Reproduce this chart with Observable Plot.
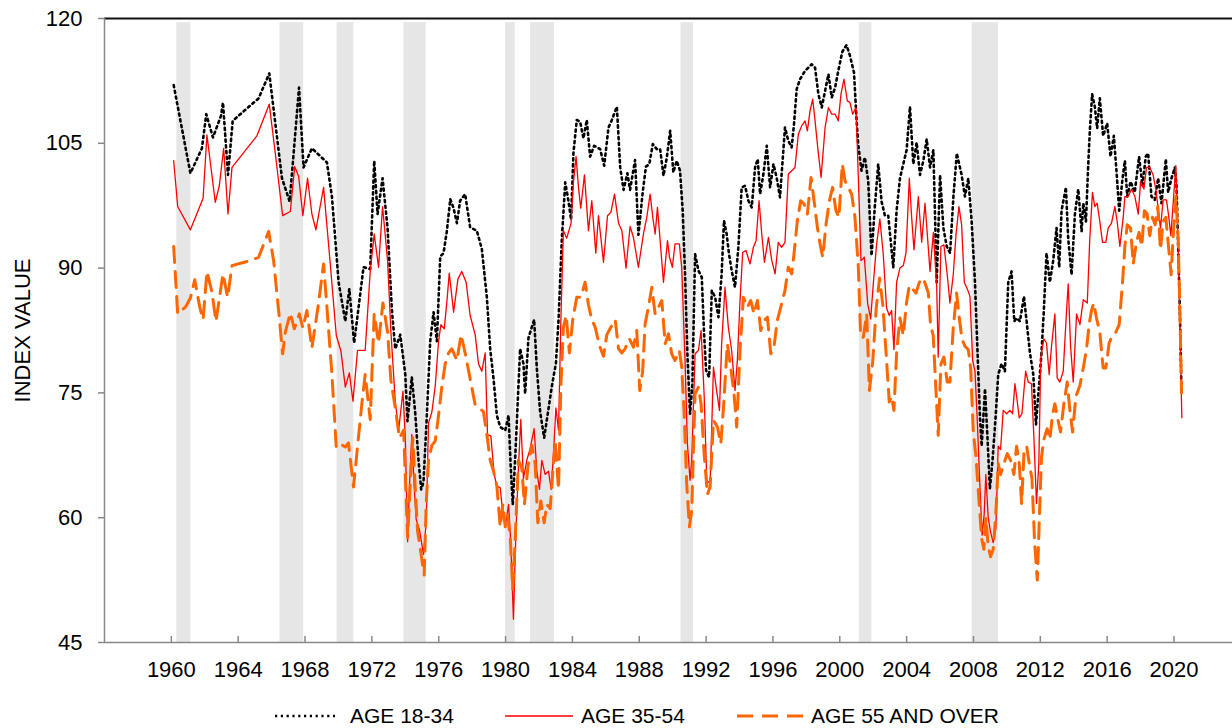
<!DOCTYPE html>
<html><head><meta charset="utf-8">
<script src="https://cdn.jsdelivr.net/npm/d3@7"></script>
<script src="https://cdn.jsdelivr.net/npm/@observablehq/plot@0.6"></script>
<style>
body{margin:0;background:#fff;font-family:"Liberation Sans",Arial,sans-serif;}
#chart svg{display:block;}
#legend{display:block;}
</style></head><body><div id="chart"></div><div id="legend"></div>
<script>
const xTicks = [1960,1964,1968,1972,1976,1980,1984,1988,1992,1996,2000,2004,2008,2012,2016,2020];
const yTicks = [45,60,75,90,105,120];
const seriesNames = ["AGE 18-34","AGE 35-54","AGE 55 AND OVER"];
const recessions = [[1960.33,1961.17],[1966.5,1967.92],[1969.92,1970.92],[1973.92,1975.25],[1980.0,1980.58],[1981.5,1982.92],[1990.5,1991.25],[2001.17,2001.92],[2007.92,2009.5]];

const age18_34 = [[1960.14,112.0],[1961.14,101.4],[1961.83,104.4],[1962.09,108.5],[1962.49,105.7],[1962.97,108.3],[1963.09,109.9],[1963.39,101.2],[1963.67,107.7],[1964.53,109.2],[1965.22,110.4],[1965.86,113.4],[1966.62,100.8],[1967.08,98.0],[1967.64,111.7],[1967.91,102.1],[1968.41,104.4],[1969.31,102.7],[1969.61,98.6],[1970.01,88.3],[1970.41,83.6],[1970.65,87.5],[1970.94,81.0],[1971.5,90.1],[1971.9,89.9],[1972.14,102.9],[1972.34,96.5],[1972.64,100.8],[1972.94,94.8],[1973.2,84.9],[1973.4,80.3],[1973.7,82.0],[1974.0,77.2],[1974.13,71.6],[1974.39,76.9],[1974.59,72.7],[1974.79,66.9],[1974.95,63.4],[1975.09,64.3],[1975.29,72.3],[1975.49,81.2],[1975.69,84.7],[1975.89,81.2],[1976.09,91.4],[1976.29,91.8],[1976.49,94.5],[1976.69,98.3],[1976.89,97.2],[1977.09,95.4],[1977.28,98.1],[1977.58,98.9],[1977.88,94.9],[1978.28,94.5],[1978.58,92.3],[1978.88,86.5],[1979.08,80.3],[1979.28,76.7],[1979.48,72.3],[1979.68,70.9],[1979.98,70.5],[1980.18,72.3],[1980.31,66.0],[1980.43,61.6],[1980.57,66.9],[1980.71,73.1],[1980.87,80.3],[1981.07,78.5],[1981.17,74.9],[1981.37,81.6],[1981.57,82.9],[1981.71,83.8],[1981.87,78.0],[1982.07,72.7],[1982.31,69.6],[1982.51,72.3],[1982.77,75.8],[1983.01,78.5],[1983.17,83.8],[1983.37,93.6],[1983.57,100.3],[1983.76,98.1],[1983.92,95.8],[1984.06,103.8],[1984.26,107.8],[1984.46,107.6],[1984.66,105.6],[1984.86,107.8],[1985.06,103.4],[1985.3,104.7],[1985.66,104.3],[1985.9,102.3],[1986.16,106.9],[1986.36,107.8],[1986.66,109.4],[1986.86,102.1],[1987.06,99.4],[1987.29,101.4],[1987.45,99.4],[1987.75,103.0],[1987.95,94.0],[1988.2,99.0],[1988.4,102.2],[1988.6,102.5],[1988.81,104.9],[1989.05,104.3],[1989.25,104.3],[1989.45,101.1],[1989.65,103.3],[1989.85,106.5],[1990.04,101.5],[1990.24,102.9],[1990.44,101.7],[1990.6,96.9],[1990.74,89.3],[1990.88,79.7],[1991.04,72.5],[1991.18,76.1],[1991.34,91.7],[1991.54,89.7],[1991.74,88.9],[1991.88,82.1],[1992.0,77.7],[1992.18,76.9],[1992.34,87.3],[1992.54,86.5],[1992.74,84.1],[1992.93,89.3],[1993.07,95.7],[1993.23,94.1],[1993.37,91.7],[1993.53,89.7],[1993.73,87.7],[1993.93,92.5],[1994.13,99.7],[1994.33,99.9],[1994.53,98.1],[1994.73,97.3],[1994.93,102.1],[1995.09,103.1],[1995.23,98.9],[1995.43,101.3],[1995.63,104.7],[1995.83,99.7],[1996.03,102.5],[1996.22,100.9],[1996.42,98.5],[1996.62,104.1],[1996.72,106.9],[1996.92,105.3],[1997.12,104.5],[1997.26,107.3],[1997.42,111.5],[1997.62,112.7],[1997.92,113.7],[1998.32,114.5],[1998.52,114.1],[1998.72,110.9],[1998.92,109.3],[1999.12,111.3],[1999.32,113.3],[1999.52,110.5],[1999.72,111.7],[1999.91,113.7],[2000.15,116.0],[2000.4,116.8],[2000.6,115.6],[2000.85,113.5],[2001.0,108.0],[2001.1,104.9],[2001.3,101.7],[2001.5,103.3],[2001.7,100.5],[2001.9,91.5],[2002.1,97.5],[2002.3,102.5],[2002.5,98.0],[2002.7,96.3],[2002.9,96.3],[2003.2,90.1],[2003.4,96.9],[2003.6,100.8],[2003.8,102.5],[2004.0,104.2],[2004.2,109.4],[2004.4,102.5],[2004.6,105.1],[2004.8,101.2],[2005.0,102.9],[2005.2,105.5],[2005.4,102.1],[2005.6,104.2],[2005.8,88.3],[2006.0,101.2],[2006.2,94.8],[2006.4,92.6],[2006.6,91.8],[2006.8,98.6],[2007.0,103.8],[2007.29,101.2],[2007.49,98.6],[2007.69,100.8],[2007.89,95.6],[2008.09,88.3],[2008.23,80.6],[2008.39,72.0],[2008.49,68.6],[2008.69,75.5],[2008.83,69.9],[2008.98,63.5],[2009.14,66.9],[2009.32,72.0],[2009.48,77.2],[2009.68,78.5],[2009.88,77.6],[2010.08,88.3],[2010.28,89.6],[2010.44,83.6],[2010.58,84.0],[2010.78,83.6],[2011.02,86.6],[2011.18,83.6],[2011.38,79.8],[2011.58,77.2],[2011.74,71.2],[2011.87,74.6],[2012.07,79.8],[2012.21,84.9],[2012.37,91.8],[2012.57,88.3],[2012.77,90.9],[2012.97,94.8],[2013.13,90.1],[2013.27,96.9],[2013.53,99.7],[2013.67,93.5],[2013.87,89.2],[2014.07,96.5],[2014.27,99.5],[2014.47,94.4],[2014.57,97.8],[2014.73,95.6],[2014.86,102.1],[2014.96,106.4],[2015.1,110.9],[2015.26,109.4],[2015.4,106.8],[2015.56,110.4],[2015.76,105.9],[2016.0,107.4],[2016.2,103.4],[2016.4,105.9],[2016.56,101.6],[2016.72,96.9],[2016.92,100.8],[2017.06,102.9],[2017.2,98.6],[2017.4,100.4],[2017.65,99.1],[2017.91,103.4],[2018.11,99.9],[2018.31,103.4],[2018.45,103.8],[2018.65,98.6],[2018.85,98.2],[2019.05,100.8],[2019.25,97.8],[2019.51,103.1],[2019.65,99.1],[2019.85,100.8],[2020.05,102.1],[2020.15,99.9],[2020.25,92.6],[2020.35,84.9],[2020.45,75.0]];

const age35_54 = [[1960.14,102.9],[1960.38,97.4],[1961.14,94.6],[1961.9,98.4],[1962.13,106.0],[1962.63,97.9],[1962.87,99.9],[1963.13,104.4],[1963.39,96.5],[1963.63,102.1],[1965.12,105.9],[1965.86,109.7],[1966.22,103.8],[1966.66,96.3],[1967.12,96.8],[1967.38,102.2],[1967.62,101.0],[1967.87,96.3],[1968.15,100.8],[1968.41,96.5],[1968.65,94.6],[1969.11,99.7],[1969.51,90.5],[1969.87,81.9],[1970.15,80.0],[1970.41,75.7],[1970.65,77.4],[1970.87,74.0],[1971.14,80.1],[1971.6,80.1],[1971.9,89.6],[1972.14,94.1],[1972.4,90.1],[1972.64,97.4],[1972.94,90.9],[1973.14,82.3],[1973.4,74.0],[1973.6,70.5],[1973.86,75.2],[1974.0,69.6],[1974.14,57.1],[1974.25,63.8],[1974.39,70.0],[1974.53,63.8],[1974.65,59.8],[1974.85,58.5],[1975.09,55.6],[1975.25,59.4],[1975.39,71.4],[1975.59,72.7],[1975.79,75.8],[1975.99,81.2],[1976.13,83.2],[1976.33,82.7],[1976.49,86.0],[1976.63,89.4],[1976.89,84.7],[1977.15,88.7],[1977.38,89.6],[1977.64,88.3],[1977.88,84.3],[1978.18,82.0],[1978.38,78.5],[1978.58,77.6],[1978.78,79.8],[1978.92,70.0],[1979.12,69.8],[1979.32,65.2],[1979.48,63.8],[1979.68,63.6],[1979.78,61.6],[1979.98,58.9],[1980.18,61.6],[1980.31,57.1],[1980.47,47.8],[1980.63,58.9],[1980.77,66.0],[1980.91,71.8],[1981.07,64.7],[1981.27,66.9],[1981.47,68.3],[1981.71,70.7],[1981.87,65.6],[1982.03,63.4],[1982.17,66.9],[1982.37,65.2],[1982.57,65.6],[1982.73,63.4],[1982.87,67.8],[1983.01,73.2],[1983.17,70.5],[1983.31,83.8],[1983.46,94.5],[1983.66,93.6],[1983.92,95.4],[1984.06,100.3],[1984.22,103.4],[1984.36,99.8],[1984.5,97.2],[1984.72,101.2],[1984.96,94.5],[1985.16,98.1],[1985.4,91.8],[1985.56,96.3],[1985.86,90.7],[1986.1,96.3],[1986.3,96.7],[1986.52,98.9],[1986.76,95.4],[1986.96,94.5],[1987.21,90.0],[1987.45,95.0],[1987.65,93.7],[1987.95,90.1],[1988.25,94.1],[1988.45,96.1],[1988.65,98.9],[1988.81,96.1],[1988.95,94.1],[1989.09,97.3],[1989.45,88.3],[1989.69,93.3],[1989.81,91.3],[1989.98,90.1],[1990.14,92.9],[1990.4,92.9],[1990.54,90.1],[1990.74,78.9],[1990.88,68.9],[1991.04,64.5],[1991.14,66.9],[1991.34,79.7],[1991.54,80.1],[1991.7,82.5],[1991.88,74.9],[1992.04,64.5],[1992.24,64.1],[1992.44,78.1],[1992.6,75.7],[1992.8,72.9],[1992.93,80.9],[1993.13,87.7],[1993.33,82.9],[1993.53,80.1],[1993.73,75.3],[1993.87,78.9],[1994.03,86.1],[1994.19,91.9],[1994.39,92.1],[1994.63,90.5],[1994.83,92.5],[1994.99,93.3],[1995.17,98.1],[1995.33,94.1],[1995.49,90.7],[1995.73,93.7],[1995.93,90.9],[1996.13,89.3],[1996.32,93.1],[1996.52,92.5],[1996.72,93.1],[1996.92,101.3],[1997.12,101.7],[1997.32,102.1],[1997.52,106.1],[1997.72,107.1],[1997.92,107.7],[1998.06,106.5],[1998.22,108.9],[1998.38,110.3],[1998.52,107.7],[1998.68,104.5],[1998.88,100.9],[1999.12,106.9],[1999.32,109.3],[1999.52,108.5],[1999.72,108.5],[1999.91,107.7],[2000.07,110.9],[2000.25,112.7],[2000.45,110.1],[2000.61,109.9],[2000.77,108.5],[2000.97,109.3],[2001.11,100.9],[2001.27,90.9],[2001.47,91.3],[2001.67,85.7],[2001.85,83.9],[2002.0,88.0],[2002.2,92.8],[2002.4,95.9],[2002.6,91.7],[2002.8,85.2],[2002.96,84.3],[2003.1,84.9],[2003.24,80.2],[2003.4,88.3],[2003.6,90.0],[2003.8,90.3],[2003.96,91.8],[2004.16,100.8],[2004.3,96.1],[2004.44,92.2],[2004.7,98.6],[2004.9,93.1],[2005.1,97.8],[2005.4,89.6],[2005.6,94.3],[2005.8,87.7],[2005.89,79.3],[2006.05,92.6],[2006.23,92.8],[2006.43,89.2],[2006.59,85.8],[2006.79,89.2],[2006.95,93.9],[2007.13,97.4],[2007.29,95.2],[2007.45,88.3],[2007.63,87.5],[2007.79,86.6],[2007.95,78.9],[2008.09,77.6],[2008.23,71.6],[2008.39,63.5],[2008.52,57.9],[2008.64,60.4],[2008.74,65.2],[2008.88,60.0],[2009.02,58.3],[2009.18,57.0],[2009.34,58.7],[2009.48,68.6],[2009.62,68.2],[2009.78,72.9],[2009.98,72.5],[2010.18,72.9],[2010.34,72.5],[2010.48,76.1],[2010.58,74.6],[2010.74,72.0],[2010.9,72.5],[2011.12,77.6],[2011.28,76.3],[2011.47,76.1],[2011.61,69.9],[2011.77,61.7],[2011.91,66.5],[2012.03,79.3],[2012.21,81.5],[2012.37,81.0],[2012.53,77.2],[2012.67,80.6],[2012.87,84.5],[2013.01,76.8],[2013.17,76.3],[2013.37,77.6],[2013.57,84.9],[2013.67,88.1],[2013.81,80.6],[2013.97,76.3],[2014.17,84.5],[2014.37,83.2],[2014.57,86.2],[2014.81,85.8],[2014.96,93.5],[2015.12,99.1],[2015.26,97.4],[2015.4,97.8],[2015.56,95.6],[2015.72,93.1],[2015.92,93.1],[2016.06,94.8],[2016.26,95.4],[2016.46,97.4],[2016.6,95.6],[2016.76,92.6],[2016.96,96.1],[2017.06,98.6],[2017.26,98.6],[2017.46,99.5],[2017.66,98.6],[2017.86,96.5],[2018.0,100.4],[2018.2,99.5],[2018.35,102.1],[2018.55,102.1],[2018.75,101.2],[2018.91,99.5],[2019.07,96.9],[2019.19,94.8],[2019.35,98.2],[2019.55,98.2],[2019.69,96.1],[2019.81,93.9],[2019.95,97.8],[2020.11,102.3],[2020.25,92.6],[2020.35,82.8],[2020.47,72.0]];

const age55plus = [[1960.14,92.6],[1960.38,84.5],[1960.84,85.3],[1961.14,86.4],[1961.4,88.6],[1961.7,85.3],[1961.9,83.8],[1962.13,89.6],[1962.43,87.1],[1962.67,83.6],[1963.09,89.3],[1963.37,86.5],[1963.63,90.3],[1964.72,90.9],[1965.22,91.3],[1965.82,94.4],[1966.12,90.9],[1966.42,84.9],[1966.66,79.7],[1966.82,82.3],[1967.12,84.6],[1967.36,82.7],[1967.66,84.5],[1967.87,82.8],[1968.11,84.9],[1968.41,80.4],[1968.81,85.8],[1969.11,90.5],[1969.31,85.3],[1969.61,77.2],[1969.87,68.4],[1970.15,68.8],[1970.41,68.5],[1970.6,69.0],[1970.9,63.7],[1971.1,67.7],[1971.4,73.7],[1971.6,77.2],[1971.9,71.8],[1972.14,84.5],[1972.4,81.0],[1972.66,85.8],[1972.94,82.3],[1973.14,76.5],[1973.4,73.2],[1973.65,69.6],[1973.9,70.5],[1974.14,57.6],[1974.29,63.8],[1974.45,69.6],[1974.59,63.8],[1974.73,58.5],[1974.93,55.8],[1975.13,53.1],[1975.25,61.6],[1975.39,66.9],[1975.59,68.7],[1975.79,69.2],[1975.99,72.3],[1976.19,75.8],[1976.39,78.5],[1976.59,79.8],[1976.79,80.3],[1977.09,78.9],[1977.34,82.0],[1977.58,79.8],[1977.88,76.7],[1978.18,73.6],[1978.44,73.2],[1978.68,72.7],[1978.88,70.0],[1979.08,66.9],[1979.28,65.6],[1979.48,63.8],[1979.68,58.9],[1979.84,61.6],[1979.98,58.9],[1980.12,60.3],[1980.28,57.6],[1980.43,51.4],[1980.57,57.1],[1980.77,66.9],[1980.97,66.0],[1981.13,61.6],[1981.33,66.0],[1981.57,68.7],[1981.77,66.5],[1981.93,59.4],[1982.11,62.0],[1982.31,59.4],[1982.47,61.6],[1982.67,61.1],[1982.83,65.6],[1982.97,69.2],[1983.17,63.4],[1983.31,75.8],[1983.46,82.9],[1983.63,84.3],[1983.82,79.8],[1984.02,83.8],[1984.26,86.5],[1984.5,86.5],[1984.76,88.3],[1984.96,85.6],[1985.16,83.8],[1985.36,82.9],[1985.62,80.7],[1985.86,79.4],[1986.06,82.0],[1986.3,82.9],[1986.56,83.8],[1986.76,80.3],[1986.96,79.8],[1987.15,80.3],[1987.41,81.5],[1987.65,80.5],[1987.85,82.5],[1988.03,75.3],[1988.2,77.5],[1988.35,83.3],[1988.55,85.3],[1988.75,87.7],[1988.95,84.5],[1989.15,85.3],[1989.35,86.1],[1989.55,80.9],[1989.75,82.1],[1989.94,79.7],[1990.14,78.9],[1990.4,80.1],[1990.54,78.1],[1990.68,72.9],[1990.84,64.1],[1991.0,58.9],[1991.14,60.9],[1991.34,74.9],[1991.54,75.7],[1991.7,73.7],[1991.88,67.7],[1992.08,62.8],[1992.24,63.7],[1992.44,71.7],[1992.68,70.9],[1992.88,68.9],[1993.07,74.1],[1993.27,80.9],[1993.47,78.1],[1993.67,74.9],[1993.83,70.9],[1994.03,80.1],[1994.23,86.5],[1994.47,85.3],[1994.67,86.1],[1994.87,84.5],[1995.07,86.1],[1995.27,82.5],[1995.47,83.7],[1995.67,84.1],[1995.87,79.7],[1996.06,80.5],[1996.26,83.7],[1996.52,85.7],[1996.72,87.3],[1996.92,90.1],[1997.12,89.3],[1997.26,91.7],[1997.46,95.7],[1997.66,98.1],[1997.86,97.7],[1998.06,96.5],[1998.28,100.9],[1998.46,98.1],[1998.66,94.9],[1998.82,92.9],[1998.98,91.3],[1999.18,95.3],[1999.38,98.1],[1999.57,99.7],[1999.77,96.9],[1999.95,96.1],[2000.15,102.5],[2000.31,100.5],[2000.51,99.7],[2000.71,98.9],[2000.91,96.1],[2001.11,90.1],[2001.25,81.7],[2001.41,81.7],[2001.61,84.5],[2001.77,75.3],[2001.97,78.7],[2002.18,85.2],[2002.38,88.8],[2002.58,85.5],[2002.78,79.5],[2002.96,73.9],[2003.1,74.6],[2003.24,72.9],[2003.4,79.8],[2003.6,84.0],[2003.8,81.9],[2003.99,85.8],[2004.16,87.9],[2004.36,87.5],[2004.56,87.0],[2004.76,88.3],[2005.0,88.8],[2005.3,87.0],[2005.43,83.2],[2005.59,81.9],[2005.73,76.3],[2005.89,69.9],[2006.05,78.5],[2006.23,79.3],[2006.43,76.3],[2006.59,76.3],[2006.79,82.8],[2006.99,87.0],[2007.15,84.0],[2007.31,81.5],[2007.49,80.6],[2007.69,80.2],[2007.83,78.0],[2007.99,70.3],[2008.15,67.3],[2008.31,62.6],[2008.49,57.5],[2008.62,56.2],[2008.74,60.0],[2008.88,56.6],[2009.02,55.3],[2009.18,56.2],[2009.34,60.5],[2009.48,66.5],[2009.62,65.2],[2009.82,66.5],[2010.02,67.7],[2010.22,66.9],[2010.42,65.2],[2010.58,68.6],[2010.74,66.5],[2010.88,61.7],[2011.02,67.7],[2011.18,68.6],[2011.34,66.5],[2011.5,64.7],[2011.66,57.0],[2011.82,52.5],[2011.93,59.2],[2012.07,67.3],[2012.21,69.4],[2012.41,70.7],[2012.57,69.4],[2012.73,72.4],[2012.87,73.7],[2013.03,72.0],[2013.21,70.3],[2013.41,73.7],[2013.61,76.3],[2013.77,72.9],[2013.93,70.3],[2014.13,74.6],[2014.37,75.9],[2014.57,78.0],[2014.76,80.2],[2014.92,83.2],[2015.06,84.9],[2015.2,85.8],[2015.36,84.0],[2015.56,82.3],[2015.76,78.0],[2015.92,78.0],[2016.12,81.0],[2016.32,81.9],[2016.52,82.3],[2016.72,83.2],[2016.92,88.3],[2017.06,92.6],[2017.2,95.2],[2017.4,94.8],[2017.56,90.5],[2017.75,93.1],[2017.91,94.3],[2018.07,92.6],[2018.23,96.9],[2018.39,96.5],[2018.55,93.9],[2018.71,96.1],[2018.87,95.2],[2019.03,97.4],[2019.19,92.2],[2019.35,95.6],[2019.51,96.1],[2019.67,92.6],[2019.83,89.2],[2019.95,93.9],[2020.11,98.6],[2020.25,93.5],[2020.35,84.9],[2020.45,75.0]];

const FONT = "Liberation Sans, Arial, Helvetica, sans-serif";
const tickLen = 6 / 8.32; // ~6px in y units

const chart = Plot.plot({
  width: 1232, height: 696,
  marginLeft: 104, marginRight: 0, marginTop: 18, marginBottom: 54,
  style: {fontFamily: FONT, fontSize: "22px", color: "#000", background: "#fff", overflow: "visible"},
  x: {domain: [1956, 2023.5]},
  y: {domain: [45, 120]},
  marks: [
    Plot.rect(recessions, {x1: d => d[0], x2: d => d[1], y1: 45, y2: 119.5, fill: "#e6e6e6"}),
    Plot.ruleY([120], {stroke: "#111", strokeWidth: 2}),
    Plot.ruleY([45], {stroke: "#888", strokeWidth: 1.5}),
    Plot.ruleX([1956], {stroke: "#888", strokeWidth: 1.5}),
    Plot.ruleX(xTicks, {x: d => d, y1: 45, y2: 45 + tickLen, stroke: "#888", strokeWidth: 1.5}),
    Plot.axisX({ticks: xTicks, tickFormat: d => String(d), tickSize: 0, tickPadding: 19, fontSize: 22, label: null, fill: "#000"}),
    Plot.axisY({ticks: yTicks, tickSize: 6, tickPadding: 16, stroke: "#888", strokeWidth: 1.5, fontSize: 22, label: null, fill: "#000"}),
    Plot.line(age18_34, {x: d => d[0], y: d => d[1], stroke: "#000", strokeWidth: 2.6, strokeDasharray: "2.2,3.6"}),
    Plot.line(age35_54, {x: d => d[0], y: d => d[1], stroke: "#ff0000", strokeWidth: 1.3}),
    Plot.line(age55plus, {x: d => d[0], y: d => d[1], stroke: "#ff6600", strokeWidth: 3, strokeDasharray: "16,9"}),
    Plot.text(["INDEX VALUE"], {frameAnchor: "left", textAnchor: "middle", lineAnchor: "middle", rotate: -90, dx: -82, fontSize: 22, fill: "#000"})
  ]
});
document.getElementById("chart").appendChild(chart);

// legend below the chart
const lg = d3.select("#legend").append("svg").attr("width", 1232).attr("height", 32)
  .style("font-family", FONT).style("font-size", "21px").style("display", "block");
const items = [
  {x1: 275, x2: 335, tx: 350, stroke: "#000", w: 2.6, dash: "2.2,3.6", name: seriesNames[0]},
  {x1: 505, x2: 573, tx: 581, stroke: "#ff0000", w: 1.3, dash: null, name: seriesNames[1]},
  {x1: 737, x2: 805, tx: 811, stroke: "#ff6600", w: 3, dash: "16,9", name: seriesNames[2]}
];
for (const it of items) {
  lg.append("line").attr("x1", it.x1).attr("x2", it.x2).attr("y1", 20).attr("y2", 20)
    .attr("stroke", it.stroke).attr("stroke-width", it.w).attr("stroke-dasharray", it.dash);
  lg.append("text").attr("x", it.tx).attr("y", 20).attr("dy", "0.35em").attr("fill", "#000").text(it.name);
}
</script>
</body></html>
